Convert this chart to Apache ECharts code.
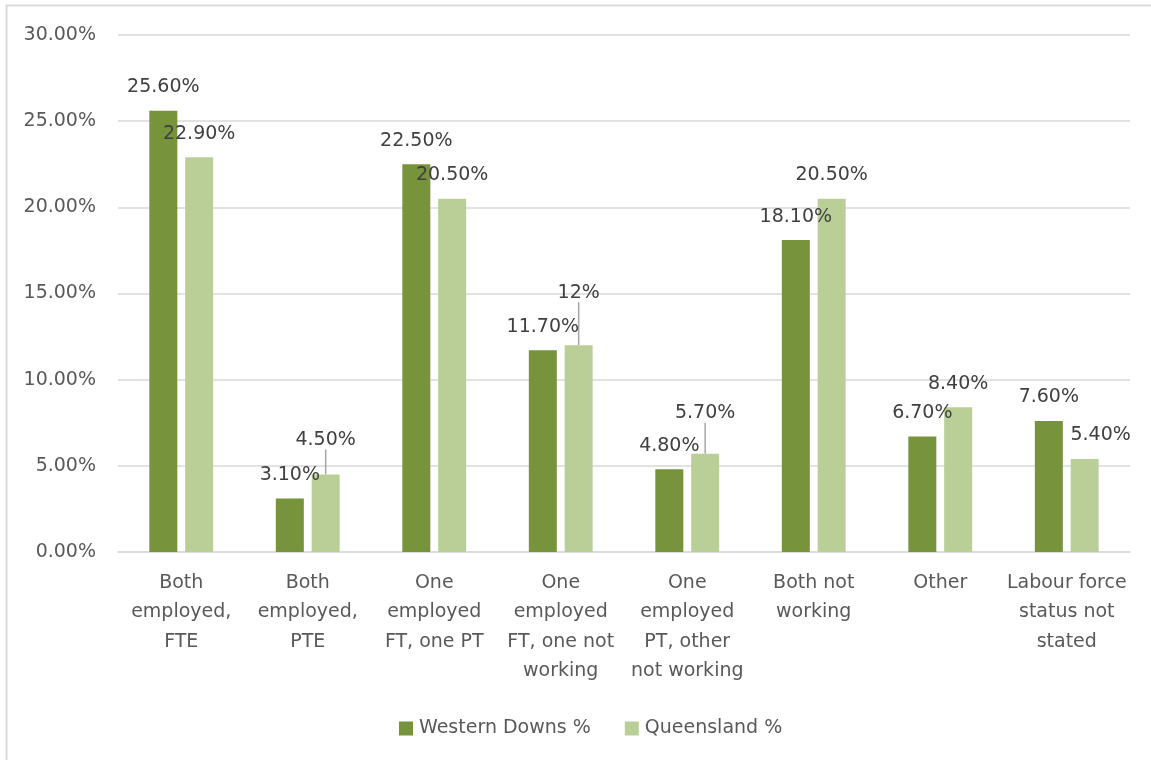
<!DOCTYPE html>
<html>
<head>
<meta charset="utf-8">
<script src="https://cdn.jsdelivr.net/npm/echarts@6/dist/echarts.min.js"></script>
<style>
html,body{margin:0;padding:0;background:#fff;}
#chart{width:1151px;height:760px;}
</style>
</head>
<body>
<div id="chart"></div>
<script>
const categories = [
  "Both\nemployed,\nFTE",
  "Both\nemployed,\nPTE",
  "One\nemployed\nFT, one PT",
  "One\nemployed\nFT, one not\nworking",
  "One\nemployed\nPT, other\nnot working",
  "Both not\nworking",
  "Other",
  "Labour force\nstatus not\nstated"
];
const westernDowns = [25.6, 3.1, 22.5, 11.7, 4.8, 18.1, 6.7, 7.6];
const queensland = [22.9, 4.5, 20.5, 12.0, 5.7, 20.5, 8.4, 5.4];
const wdLabels = ["25.60%","3.10%","22.50%","11.70%","4.80%","18.10%","6.70%","7.60%"];
const qldLabels = ["22.90%","4.50%","20.50%","12%","5.70%","20.50%","8.40%","5.40%"];
const yTicks = [0, 5, 10, 15, 20, 25, 30];

// label placement tweaks (styling only)
const qldLabelShift = [[0,0],[0,-11],[0,0],[0,-29],[0,-17],[0,0],[0,0],[16,0]];
const qldLeader = [false,true,false,true,true,false,false,false];

const FONT = "DejaVu Sans";
const chart = echarts.init(document.getElementById('chart'));

const wdData = westernDowns.map((v,i)=>({value:v, label:{formatter:wdLabels[i]}}));
const qldData = queensland.map((v,i)=>({
  value:v,
  label:{formatter:qldLabels[i]},
  labelLine:{show:qldLeader[i]}
}));

chart.setOption({
  animation:false,
  backgroundColor:'#fff',
  graphic:[{
    type:'polyline',
    shape:{points:[[6.5,760],[6.5,5.5],[1151,5.5]]},
    style:{stroke:'#d9d9d9',lineWidth:2,fill:null},
    silent:true
  }],
  grid:{left:118,right:21,top:35,bottom:208},
  legend:{
    left:394, top:714,
    icon:'rect', itemWidth:14, itemHeight:14, itemGap:34,
    textStyle:{fontFamily:FONT,fontSize:19,color:'#595959',padding:[0,0,0,1]},
    data:['Western Downs %','Queensland %']
  },
  xAxis:{
    type:'category',
    data:categories,
    axisLine:{show:true,lineStyle:{color:'#d9d9d9',width:1.5}},
    axisTick:{show:false},
    axisLabel:{interval:0,fontFamily:FONT,fontSize:19,color:'#595959',lineHeight:29.5,margin:16}
  },
  yAxis:{
    type:'value',
    min:yTicks[0], max:yTicks[yTicks.length-1], interval:5,
    axisLine:{show:false}, axisTick:{show:false},
    splitLine:{lineStyle:{color:'#d9d9d9',width:1.5}},
    axisLabel:{fontFamily:FONT,fontSize:19,color:'#595959',margin:22,
      formatter:v=>v.toFixed(2)+'%'}
  },
  series:[
    {
      name:'Western Downs %', type:'bar', data:wdData,
      barWidth:28, barGap:'28%',
      itemStyle:{color:'#77933C'},
      label:{show:true,position:'top',distance:14,fontFamily:FONT,fontSize:19,color:'#404040'}
    },
    {
      name:'Queensland %', type:'bar', data:qldData,
      barWidth:28,
      itemStyle:{color:'#BACF98'},
      label:{show:true,position:'top',distance:14,fontFamily:FONT,fontSize:19,color:'#404040'},
      labelLine:{show:false,lineStyle:{color:'#a6a6a6',width:1.5}},
      labelLayout:function(p){
        const s = qldLabelShift[p.dataIndex];
        return {dx:s[0], dy:s[1]};
      }
    }
  ]
});
</script>
</body>
</html>
